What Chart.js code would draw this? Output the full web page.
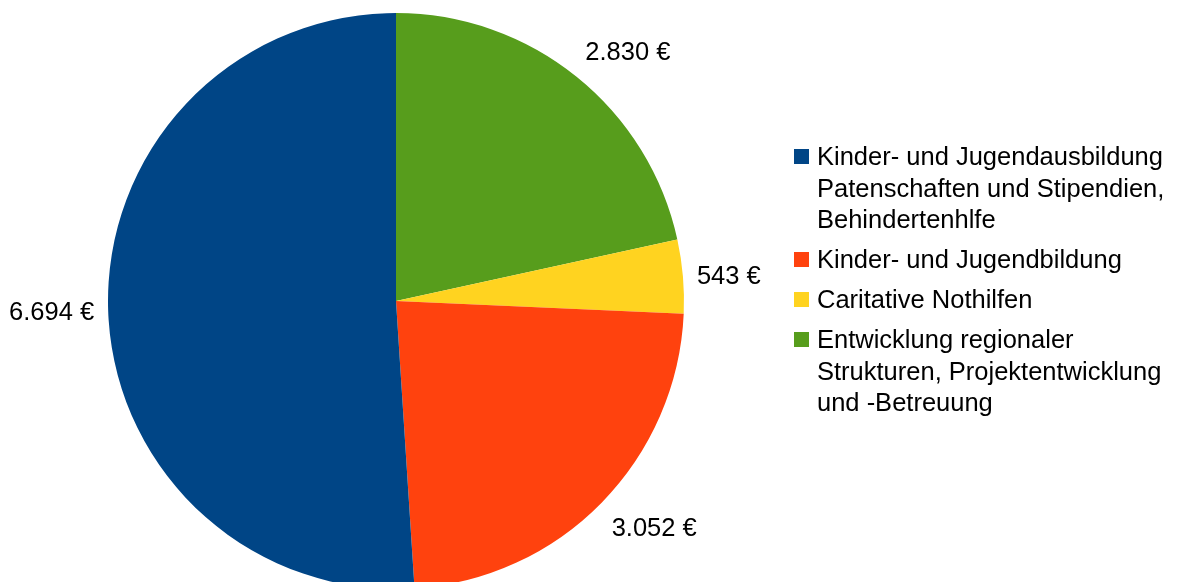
<!DOCTYPE html>
<html>
<head>
<meta charset="utf-8">
<script src="https://cdn.jsdelivr.net/npm/chart.js@4/dist/chart.umd.min.js"></script>
<style>
  html, body { margin: 0; padding: 0; background: #fff; overflow: hidden; }
  #wrap { width: 1178px; height: 582px; overflow: hidden; }
</style>
</head>
<body>
<div id="wrap"><canvas id="spenden" width="1178" height="600"></canvas></div>
<script>
// Reihenfolge im Uhrzeigersinn ab 12 Uhr (Legende wird umgekehrt gezeichnet)
const kategorien = [
    ['Entwicklung regionaler', 'Strukturen, Projektentwicklung', 'und -Betreuung'],
    ['Caritative Nothilfen'],
    ['Kinder- und Jugendbildung'],
    ['Kinder- und Jugendausbildung', 'Patenschaften und Stipendien,', 'Behindertenhlfe']
];
const betraege = [2830, 543, 3052, 6694];
const farben = ['#579d1c', '#ffd320', '#ff420e', '#004586'];

const schrift = '25.5px "Liberation Sans", Arial, sans-serif';

function euro(v) {
    return v.toLocaleString('de-DE') + ' €';
}

// Wertbeschriftungen außerhalb der Segmente
const wertPlugin = {
    id: 'wertLabels',
    afterDatasetsDraw(chart) {
        const ctx = chart.ctx;
        const meta = chart.getDatasetMeta(0);
        ctx.save();
        ctx.font = schrift;
        ctx.fillStyle = '#000';
        meta.data.forEach(function (arc, i) {
            const mitte = (arc.startAngle + arc.endAngle) / 2;
            const r = arc.outerRadius + 14;
            const cos = Math.cos(mitte), sin = Math.sin(mitte);
            const x = arc.x + r * cos;
            let y = arc.y + r * sin;
            ctx.textAlign = cos > 0.1 ? 'left' : (cos < -0.1 ? 'right' : 'center');
            ctx.textBaseline = sin < -0.3 ? 'bottom' : (sin > 0.3 ? 'top' : 'middle');
            if (sin > 0.3) y += 4;
            if (Math.abs(sin) <= 0.3) y += 2;
            ctx.fillText(euro(betraege[i]), x, y);
        });
        ctx.restore();
    }
};

// Legende rechts, mehrzeilig
const legendePlugin = {
    id: 'legendeRechts',
    afterDraw(chart) {
        const ctx = chart.ctx;
        const x0 = 794, textX = 817;
        const zeile = 31.5, abstand = 40;
        let y = 158;
        ctx.save();
        ctx.font = schrift;
        ctx.textAlign = 'left';
        ctx.textBaseline = 'middle';
        for (let i = kategorien.length - 1; i >= 0; i--) {
            ctx.fillStyle = farben[i];
            ctx.fillRect(x0, y - 9, 15, 15);
            ctx.fillStyle = '#000';
            kategorien[i].forEach(function (t, k) {
                ctx.fillText(t, textX, y + k * zeile);
            });
            y += (kategorien[i].length - 1) * zeile + abstand;
        }
        ctx.restore();
    }
};

new Chart(document.getElementById('spenden'), {
    type: 'pie',
    data: {
        labels: kategorien,
        datasets: [{
            data: betraege,
            backgroundColor: farben,
            borderWidth: 0
        }]
    },
    options: {
        responsive: false,
        animation: false,
        layout: { padding: { left: 108, top: 13, right: 494, bottom: 11 } },
        plugins: {
            legend: { display: false },
            tooltip: { enabled: false }
        }
    },
    plugins: [wertPlugin, legendePlugin]
});
</script>
</body>
</html>
